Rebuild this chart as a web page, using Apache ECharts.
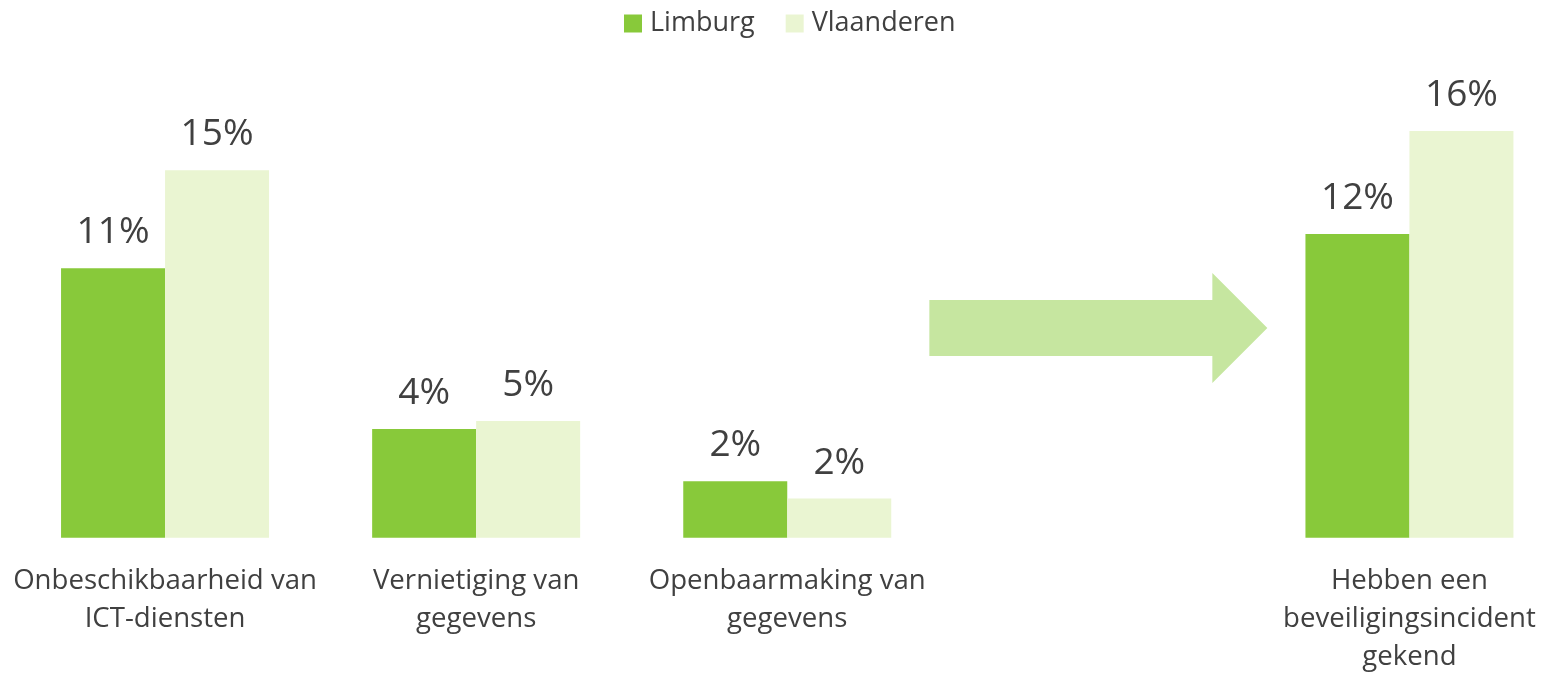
<!DOCTYPE html>
<html>
<head>
<meta charset="utf-8">
<script src="https://cdn.jsdelivr.net/npm/echarts@6/dist/echarts.min.js"></script>
<style>
  html, body { margin: 0; padding: 0; background: #fff; overflow: hidden; }
  #wrap { width: 1542px; height: 674px; overflow: hidden; position: relative; }
  #chart { width: 1565px; height: 674px; position: absolute; left: 0; top: 0; }
</style>
</head>
<body>
<div id="wrap"><div id="chart"></div></div>
<script>
// categories, the empty slot holds the arrow
const categories = [
  'Onbeschikbaarheid van\nICT-diensten',
  'Vernietiging van\ngegevens',
  'Openbaarmaking van\ngegevens',
  '',
  'Hebben een\nbeveiligingsincident\ngekend'
];
const limburgValues = [11.0, 4.44, 2.3, null, 12.4];
const vlaanderenValues = [15.0, 4.76, 1.6, null, 16.6];
const limburgLabels = ['11%', '4%', '2%', '', '12%'];
const vlaanderenLabels = ['15%', '5%', '2%', '', '16%'];

const textColor = '#404040';
const font = 'Open Sans';

// the last group is cut by the page edge, so the chart is a bit wider than the window
let chart = echarts.init(document.getElementById('chart'));

let barLabel = (labels) => ({
  show: true,
  position: 'top',
  distance: 17,
  color: textColor,
  fontFamily: font,
  fontSize: 37,
  formatter: p => labels[p.dataIndex]
});

let options = {
  animation: false,
  legend: {
    top: 5,
    left: 619,
    itemWidth: 18,
    itemHeight: 18,
    itemGap: 31,
    icon: 'rect',
    textStyle: { color: textColor, fontFamily: font, fontSize: 27, padding: [0, 0, 0, 3] },
    data: ['Limburg', 'Vlaanderen']
  },
  grid: { left: 9.5, right: 0, top: 47.7, bottom: 136.3, containLabel: false, outerBoundsMode: 'none' },
  xAxis: {
    type: 'category',
    data: categories,
    axisLine: { show: false },
    axisTick: { show: false },
    axisLabel: {
      interval: 0,
      margin: 24,
      color: textColor,
      fontFamily: font,
      fontSize: 27.6,
      lineHeight: 38,
      verticalAlign: 'top'
    }
  },
  yAxis: {
    type: 'value',
    min: 0,
    max: 20,
    show: false,
    splitLine: { show: false }
  },
  series: [
    {
      name: 'Limburg',
      type: 'bar',
      data: limburgValues,
      barWidth: 104,
      barGap: '0%',
      itemStyle: { color: '#88c93a' },
      label: barLabel(limburgLabels)
    },
    {
      name: 'Vlaanderen',
      type: 'bar',
      data: vlaanderenValues,
      barWidth: 104,
      barGap: '0%',
      itemStyle: { color: '#eaf5d2' },
      label: barLabel(vlaanderenLabels)
    }
  ]
};

chart.setOption(options);

// block arrow centred on the empty category slot
let cx = chart.convertToPixel({ xAxisIndex: 0 }, 3);
let cy = 328;
chart.setOption({
  graphic: [{
    type: 'polygon',
    shape: {
      points: [
        [cx - 169, cy - 28], [cx + 114, cy - 28], [cx + 114, cy - 55],
        [cx + 169, cy], [cx + 114, cy + 55], [cx + 114, cy + 28], [cx - 169, cy + 28]
      ]
    },
    style: { fill: '#c6e6a0' }
  }]
});
</script>
</body>
</html>
